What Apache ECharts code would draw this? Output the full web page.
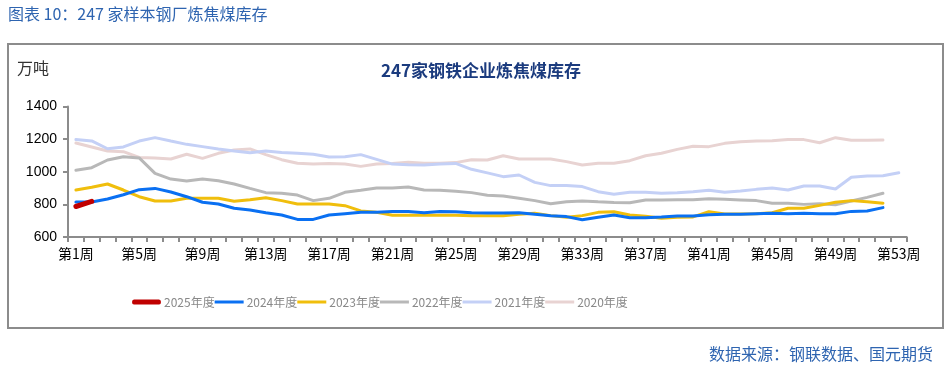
<!DOCTYPE html>
<html>
<head>
<meta charset="utf-8">
<script src="https://cdn.jsdelivr.net/npm/echarts@6/dist/echarts.min.js"></script>
<style>
html,body{margin:0;padding:0;background:#fff;}
#c{width:948px;height:371px;}
</style>
</head>
<body>
<div id="c"></div>
<script>
const weeks = [];
for (let i = 1; i <= 53; i++) weeks.push('第' + i + '周');
const yTicks = [600, 800, 1000, 1200, 1400];
const seriesNames = ['2025年度', '2024年度', '2023年度', '2022年度', '2021年度', '2020年度'];

const y2025 = [787, 818];
const y2024 = [815, 815, 833, 859, 890, 898, 876, 847, 813, 802, 776, 766, 749, 735, 708, 708, 735, 743, 751, 751, 757, 757, 749, 757, 755, 749, 747, 747, 749, 739, 731, 725, 706, 721, 735, 718, 718, 723, 729, 729, 737, 739, 739, 743, 745, 743, 745, 743, 743, 757, 759, 780];
const y2023 = [888, 905, 925, 888, 847, 821, 821, 837, 837, 837, 819, 829, 841, 823, 802, 802, 802, 792, 760, 751, 733, 733, 733, 733, 733, 731, 731, 731, 739, 745, 731, 721, 731, 751, 755, 735, 727, 715, 721, 723, 755, 741, 741, 743, 749, 776, 776, 794, 813, 823, 816, 807];
const y2022 = [1009, 1025, 1072, 1092, 1085, 990, 955, 943, 955, 945, 925, 898, 872, 868, 857, 823, 837, 874, 886, 900, 900, 906, 888, 886, 880, 872, 856, 851, 837, 823, 804, 816, 821, 816, 812, 810, 827, 827, 829, 829, 835, 831, 827, 823, 807, 807, 800, 804, 798, 821, 843, 868];
const y2021 = [1197, 1189, 1141, 1152, 1188, 1209, 1188, 1168, 1154, 1139, 1127, 1117, 1127, 1118, 1113, 1107, 1090, 1092, 1105, 1076, 1047, 1043, 1041, 1047, 1051, 1015, 993, 970, 980, 935, 915, 915, 909, 878, 862, 874, 874, 868, 872, 878, 886, 874, 882, 892, 900, 888, 913, 913, 894, 966, 974, 976, 994];
const y2020 = [1176, 1152, 1127, 1123, 1088, 1084, 1078, 1107, 1082, 1113, 1133, 1140, 1105, 1074, 1052, 1048, 1050, 1048, 1033, 1048, 1051, 1058, 1052, 1052, 1056, 1074, 1072, 1098, 1078, 1078, 1078, 1062, 1041, 1052, 1052, 1068, 1098, 1113, 1137, 1156, 1154, 1174, 1184, 1188, 1190, 1197, 1197, 1178, 1209, 1193, 1193, 1195];

const colors = {
  '2025年度': '#C00000',
  '2024年度': '#0A70F2',
  '2023年度': '#F0BE0C',
  '2022年度': '#B8B8B8',
  '2021年度': '#C4D0F6',
  '2020年度': '#E8D3D2'
};
const dataMap = {
  '2025年度': y2025, '2024年度': y2024, '2023年度': y2023,
  '2022年度': y2022, '2021年度': y2021, '2020年度': y2020
};

const drawOrder = ['2020年度', '2021年度', '2022年度', '2023年度', '2024年度', '2025年度'];
const series = drawOrder.map(function (n) {
  return {
    name: n,
    type: 'line',
    data: dataMap[n],
    symbol: 'none',
    smooth: false,
    color: colors[n],
    lineStyle: { color: colors[n], width: n === '2025年度' ? 5 : 3, cap: 'round' },
    animation: false
  };
});

const thinIcon = 'path://M0,6 L29,6 L29,9 L0,9 Z';
const thickIcon = 'path://M2,5 L27,5 Q29,5 29,7.5 Q29,10 27,10 L2,10 Q0,10 0,7.5 Q0,5 2,5 Z';
const legendData = seriesNames.map(function (n) {
  return { name: n, icon: n === '2025年度' ? thickIcon : thinIcon };
});

const chart = echarts.init(document.getElementById('c'), null, { renderer: 'canvas' });
chart.setOption({
  backgroundColor: '#ffffff',
  animation: false,
  title: {
    text: '247家钢铁企业炼焦煤库存',
    left: 476, top: 57, textAlign: 'center',
    textStyle: { color: '#1B3B7E', fontSize: 17, fontWeight: 'bold', fontFamily: '"Noto Sans CJK SC", sans-serif' }
  },
  graphic: [
    { type: 'rect', shape: { x: 8, y: 44, width: 935, height: 284 }, style: { fill: 'none', stroke: '#8C8C8C', lineWidth: 2 }, silent: true },
    { type: 'text', left: 8, top: 6, style: { text: '图表 10：247 家样本钢厂炼焦煤库存', fill: '#2E64B0', font: '16px "Noto Sans CJK SC", sans-serif' } },
    { type: 'text', left: 17, top: 60, style: { text: '万吨', fill: '#333333', font: '16px "Noto Sans CJK SC", sans-serif' } },
    { type: 'text', right: 15, top: 346, style: { text: '数据来源：钢联数据、国元期货', fill: '#2E64B0', font: '16px "Noto Sans CJK SC", sans-serif' } }
  ],
  legend: {
    data: legendData,
    left: 132, top: 296, padding: 0,
    itemWidth: 29, itemHeight: 14,
    itemGap: 0,
    textStyle: { color: '#888888', fontSize: 12, fontFamily: '"Noto Sans CJK SC", sans-serif', padding: [0, 0, 0, -2] }
  },
  grid: { left: 68, right: 41.3, top: 106.5, bottom: 134, containLabel: false },
  xAxis: {
    type: 'category',
    data: weeks,
    boundaryGap: true,
    axisLine: { show: true, lineStyle: { color: '#8C8C8C', width: 2 } },
    axisTick: { show: true, interval: 0, length: 5, lineStyle: { color: '#8C8C8C', width: 2 } },
    axisLabel: { interval: 3, margin: 10, color: '#000000', fontSize: 14, fontFamily: '"Noto Sans CJK SC", sans-serif' },
    splitLine: { show: false }
  },
  yAxis: {
    type: 'value',
    min: yTicks[0], max: yTicks[yTicks.length - 1], interval: 200,
    axisLine: { show: true, lineStyle: { color: '#8C8C8C', width: 2 } },
    axisTick: { show: true, length: 5, lineStyle: { color: '#8C8C8C', width: 2 } },
    axisLabel: { margin: 11, color: '#000000', fontSize: 14, fontFamily: '"Liberation Sans", Arial, sans-serif', formatter: function (v) { return String(v); } },
    splitLine: { show: false }
  },
  series: series
});
</script>
</body>
</html>
